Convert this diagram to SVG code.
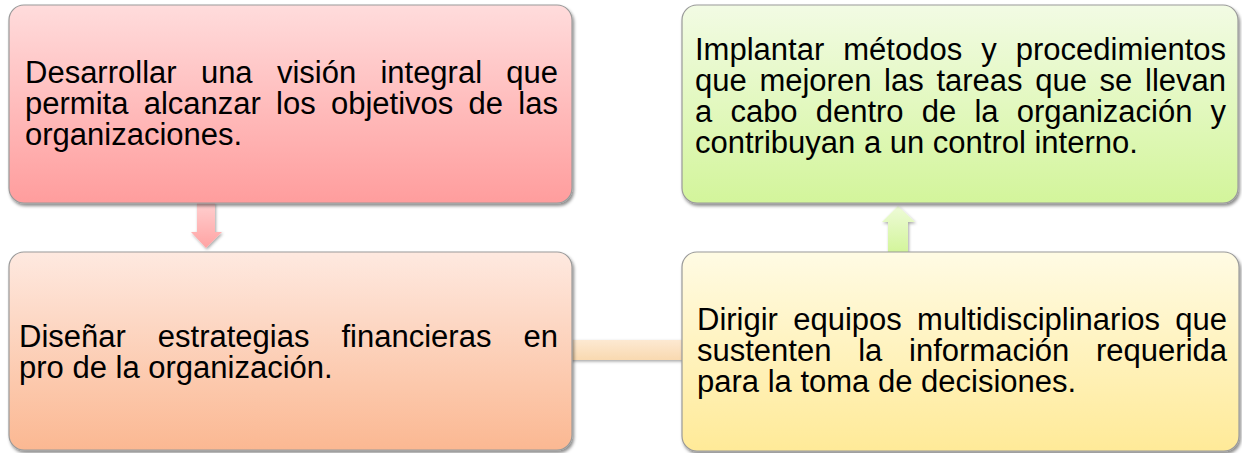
<svg xmlns="http://www.w3.org/2000/svg" width="1242" height="453" viewBox="0 0 1242 453">
<defs>
<style>
.box{stroke:#9a9a9a;stroke-width:1.2;filter:url(#sh)}
.t{font-family:"Liberation Sans",Arial,sans-serif;font-size:31px;fill:#000}
.e{text-anchor:end}
</style>
<filter id="sh" x="-5%" y="-5%" width="112%" height="115%">
<feDropShadow dx="1.5" dy="2.5" stdDeviation="1.5" flood-color="#000" flood-opacity="0.45"/>
</filter>
<filter id="ash" x="-40%" y="-40%" width="180%" height="180%">
<feDropShadow dx="1" dy="1.5" stdDeviation="1.5" flood-color="#000" flood-opacity="0.35"/>
</filter>
<linearGradient id="gRed" x1="0" y1="0" x2="0" y2="1"><stop offset="0" stop-color="#ffdcdc"/><stop offset="1" stop-color="#ff9d9d"/></linearGradient>
<linearGradient id="gPeach" x1="0" y1="0" x2="0" y2="1"><stop offset="0" stop-color="#fee9e0"/><stop offset="1" stop-color="#fbb892"/></linearGradient>
<linearGradient id="gGreen" x1="0" y1="0" x2="0" y2="1"><stop offset="0" stop-color="#f2fbe4"/><stop offset="1" stop-color="#d3f59b"/></linearGradient>
<linearGradient id="gYellow" x1="0" y1="0" x2="0" y2="1"><stop offset="0" stop-color="#fffbe4"/><stop offset="1" stop-color="#ffea98"/></linearGradient>
<linearGradient id="gArR" x1="0" y1="0" x2="0" y2="1"><stop offset="0" stop-color="#ffcfcf"/><stop offset="1" stop-color="#ffa3a3"/></linearGradient>
<linearGradient id="gArG" x1="0" y1="0" x2="0" y2="1"><stop offset="0" stop-color="#eefbd8"/><stop offset="1" stop-color="#d3f59b"/></linearGradient>
<linearGradient id="gArP" x1="0" y1="0" x2="0" y2="1"><stop offset="0" stop-color="#fde9d2"/><stop offset="1" stop-color="#f9d9b0"/></linearGradient>
</defs>
<rect width="1242" height="453" fill="#fff"/>
<g id="connectors">
<polygon fill="url(#gArR)" filter="url(#ash)" points="197,203 215,203 215,232 222,232 206,248 191,232 197,232"/>
<polygon fill="url(#gArG)" filter="url(#ash)" points="888,252 908,252 908,222 915,222 898,206 882,222 888,222"/>
<rect fill="url(#gArP)" filter="url(#ash)" x="570" y="340" width="114" height="20"/>
</g>
<g id="n1">
<rect class="box" x="9" y="5" width="563" height="198" rx="15" fill="url(#gRed)"/>
<text class="t"><tspan x="25" y="83">Desarrollar</tspan><tspan x="200.9" y="83">una</tspan><tspan x="276.9" y="83">visión</tspan><tspan x="380.4" y="83">integral</tspan><tspan x="558" y="83" text-anchor="end">que</tspan></text>
<text class="t"><tspan x="25" y="114">permita</tspan><tspan x="143.7" y="114">alcanzar</tspan><tspan x="276.1" y="114">los</tspan><tspan x="331" y="114">objetivos</tspan><tspan x="468.6" y="114">de</tspan></text>
<text class="t e" x="558" y="114">las</text>
<text class="t" x="25" y="145">organizaciones.</text>
</g>
<g id="n2">
<rect class="box" x="9" y="252" width="563" height="198" rx="15" fill="url(#gPeach)"/>
<text class="t"><tspan x="19" y="347">Diseñar</tspan><tspan x="157.8" y="347">estrategias</tspan><tspan x="341.5" y="347">financieras</tspan></text>
<text class="t e" x="558" y="347">en</text>
<text class="t" x="19" y="378">pro de la organización.</text>
</g>
<g id="n3">
<rect class="box" x="682" y="5" width="556" height="198" rx="15" fill="url(#gGreen)"/>
<text class="t"><tspan x="695" y="60">Implantar</tspan><tspan x="843.3" y="60">métodos</tspan><tspan x="981.3" y="60">y</tspan></text>
<text class="t e" x="1226" y="60">procedimientos</text>
<text class="t"><tspan x="695" y="91">que</tspan><tspan x="759.4" y="91">mejoren</tspan><tspan x="884.1" y="91">las</tspan><tspan x="936.4" y="91">tareas</tspan><tspan x="1035.2" y="91">que</tspan><tspan x="1099.6" y="91">se</tspan></text>
<text class="t e" x="1226" y="91">llevan</text>
<text class="t"><tspan x="695" y="122">a</tspan><tspan x="730.4" y="122">cabo</tspan><tspan x="815.7" y="122">dentro</tspan><tspan x="921.8" y="122">de</tspan><tspan x="974.4" y="122">la</tspan><tspan x="1016.7" y="122">organización</tspan></text>
<text class="t e" x="1226" y="122">y</text>
<text class="t" x="695" y="153">contribuyan a un control interno.</text>
</g>
<g id="n4">
<rect class="box" x="682" y="252" width="557" height="199" rx="15" fill="url(#gYellow)"/>
<text class="t"><tspan x="697" y="330">Dirigir</tspan><tspan x="793.2" y="330">equipos</tspan><tspan x="917.1" y="330">multidisciplinarios</tspan></text>
<text class="t e" x="1227" y="330">que</text>
<text class="t"><tspan x="697" y="361">sustenten</tspan><tspan x="858.2" y="361">la</tspan><tspan x="909.1" y="361">información</tspan></text>
<text class="t e" x="1227" y="361">requerida</text>
<text class="t" x="697" y="392">para la toma de decisiones.</text>
</g>
</svg>
